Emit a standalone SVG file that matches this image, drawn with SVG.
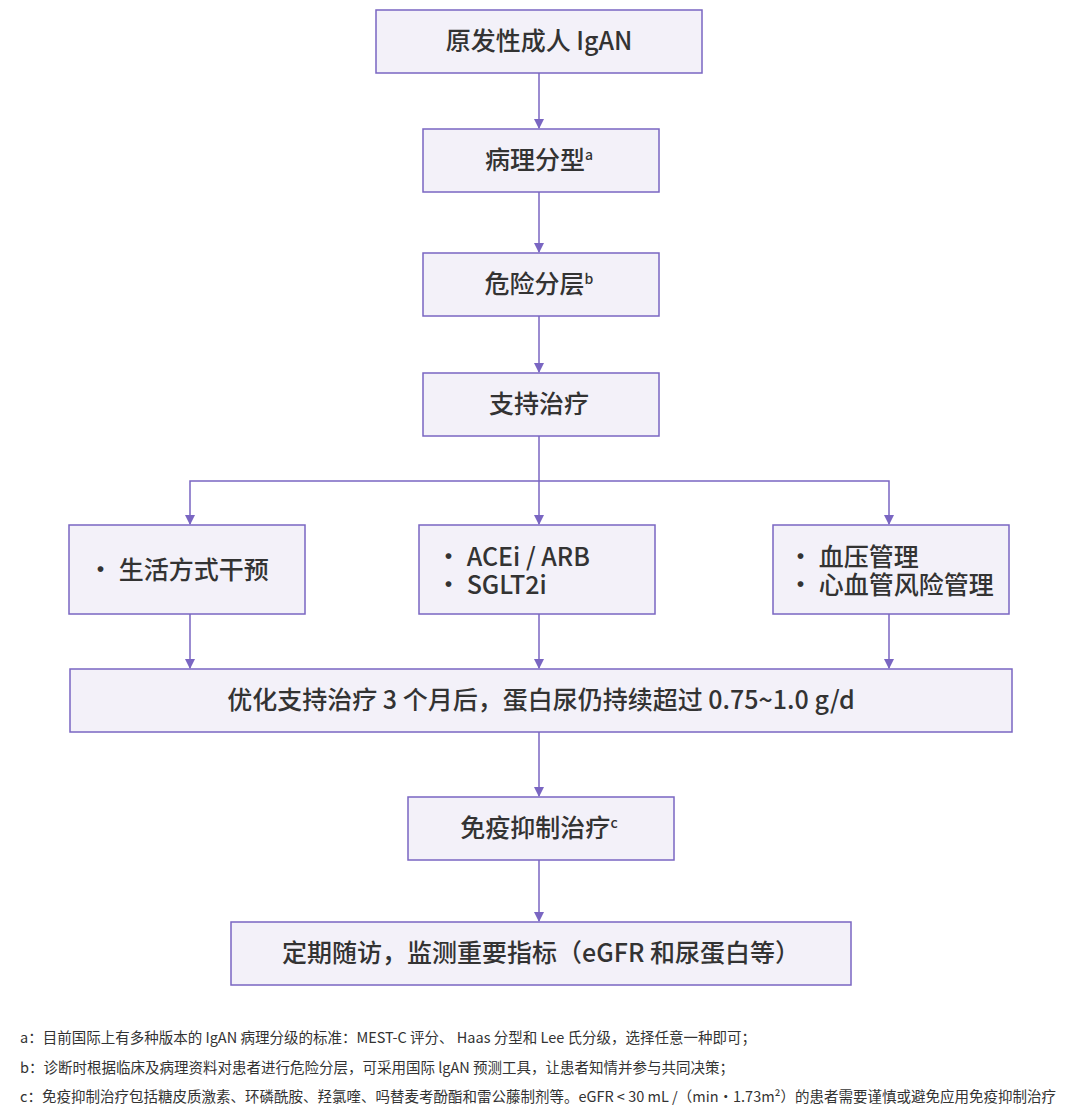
<svg xmlns="http://www.w3.org/2000/svg" width="1080" height="1109" viewBox="0 0 1080 1109">
<style>
.n{fill:#f3f1f9;stroke:#7a66c2;stroke-width:1.5}
.t{font-family:"Noto Sans CJK SC","Noto Sans",sans-serif;font-size:25px;fill:#333;font-weight:500}
.s{font-size:14px}
.c{fill:none;stroke:#7a66c2;stroke-width:1.5}
.f{font-family:"Noto Sans CJK SC","Noto Sans",sans-serif;font-size:14.5px;fill:#333}
</style>
<defs><marker id="a" viewBox="0 0 10 10" refX="9" refY="5" markerWidth="7" markerHeight="7" orient="auto"><path d="M0,0L10,5L0,10z" fill="#7a66c2"/></marker></defs>
<rect width="1080" height="1109" fill="#fff"/>
<g id="connectors">
<path class="c" d="M539,73V128" marker-end="url(#a)"/>
<path class="c" d="M539,192V252" marker-end="url(#a)"/>
<path class="c" d="M539,316V372" marker-end="url(#a)"/>
<path class="c" d="M539,436V524" marker-end="url(#a)"/>
<path class="c" d="M539,481H190V524" marker-end="url(#a)"/>
<path class="c" d="M539,481H889V524" marker-end="url(#a)"/>
<path class="c" d="M190,614V668" marker-end="url(#a)"/>
<path class="c" d="M539,614V668" marker-end="url(#a)"/>
<path class="c" d="M889,614V668" marker-end="url(#a)"/>
<path class="c" d="M539,732V796" marker-end="url(#a)"/>
<path class="c" d="M539,860V921" marker-end="url(#a)"/>
</g>
<g id="n1"><rect class="n" x="376" y="10" width="326" height="63"/><text class="t" x="539" y="50" text-anchor="middle">原发性成人 IgAN</text></g>
<g id="n2"><rect class="n" x="423" y="129" width="236" height="63"/><text class="t" x="539" y="169" text-anchor="middle">病理分型<tspan class="s" dy="-9">a</tspan></text></g>
<g id="n3"><rect class="n" x="423" y="253" width="236" height="63"/><text class="t" x="539" y="293" text-anchor="middle">危险分层<tspan class="s" dy="-9">b</tspan></text></g>
<g id="n4"><rect class="n" x="423" y="373" width="236" height="63"/><text class="t" x="539" y="413" text-anchor="middle">支持治疗</text></g>
<g id="n5"><rect class="n" x="69" y="525" width="236" height="89"/><text class="t" x="88" y="579">· 生活方式干预</text></g>
<g id="n6"><rect class="n" x="419" y="525" width="236" height="89"/><text class="t" x="436" y="566">· ACEi / ARB</text><text class="t" x="436" y="594">· SGLT2i</text></g>
<g id="n7"><rect class="n" x="773" y="525" width="236" height="89"/><text class="t" x="788" y="566">· 血压管理</text><text class="t" x="788" y="594">· 心血管风险管理</text></g>
<g id="n8"><rect class="n" x="70" y="669" width="942" height="63"/><text class="t" x="541" y="709" text-anchor="middle">优化支持治疗 3 个月后，蛋白尿仍持续超过 0.75~1.0 g/d</text></g>
<g id="n9"><rect class="n" x="408" y="797" width="266" height="63"/><text class="t" x="539" y="837" text-anchor="middle">免疫抑制治疗<tspan class="s" dy="-9">c</tspan></text></g>
<g id="n10"><rect class="n" x="231" y="922" width="620" height="63"/><text class="t" x="541" y="962" text-anchor="middle">定期随访，监测重要指标（eGFR 和尿蛋白等）</text></g>
<g id="notes">
<text class="f" x="20" y="1043">a：目前国际上有多种版本的 IgAN 病理分级的标准：MEST-C 评分、 Haas 分型和 Lee 氏分级，选择任意一种即可；</text>
<text class="f" x="20" y="1073">b：诊断时根据临床及病理资料对患者进行危险分层，可采用国际 lgAN 预测工具，让患者知情并参与共同决策；</text>
<text class="f" x="20" y="1102">c：免疫抑制治疗包括糖皮质激素、环磷酰胺、羟氯喹、吗替麦考酚酯和雷公藤制剂等。eGFR &lt; 30 mL /（min·1.73m²）的患者需要谨慎或避免应用免疫抑制治疗</text>
</g>
</svg>
